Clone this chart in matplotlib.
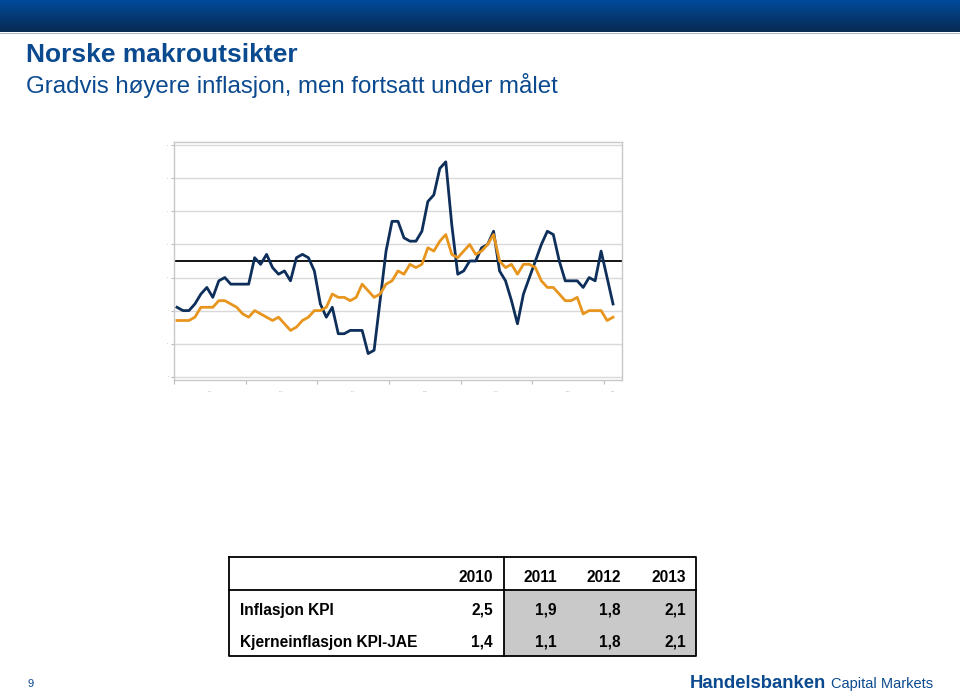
import matplotlib.pyplot as plt
import numpy as np

plt.rcParams['font.family'] = ['Liberation Sans', 'DejaVu Sans']

# månedlige tall, jan 2005 - feb 2011 (lest av figuren)
kpi = [1.1, 1.0, 1.0, 1.2, 1.5, 1.7, 1.4, 1.9, 2.0, 1.8, 1.8, 1.8,
       1.8, 2.6, 2.4, 2.7, 2.3, 2.1, 2.2, 1.9, 2.6, 2.7, 2.6, 2.2,
       1.2, 0.8, 1.1, 0.3, 0.3, 0.4, 0.4, 0.4, -0.3, -0.2, 1.3, 2.8,
       3.7, 3.7, 3.2, 3.1, 3.1, 3.4, 4.3, 4.5, 5.3, 5.5, 3.6, 2.1,
       2.2, 2.5, 2.5, 2.9, 3.0, 3.4, 2.2, 1.9, 1.3, 0.6, 1.5, 2.0,
       2.5, 3.0, 3.4, 3.3, 2.5, 1.9, 1.9, 1.9, 1.7, 2.0, 1.9, 2.8,
       2.0, 1.2]
kpi_jae = [0.7, 0.7, 0.7, 0.8, 1.1, 1.1, 1.1, 1.3, 1.3, 1.2, 1.1, 0.9,
           0.8, 1.0, 0.9, 0.8, 0.7, 0.8, 0.6, 0.4, 0.5, 0.7, 0.8, 1.0,
           1.0, 1.1, 1.5, 1.4, 1.4, 1.3, 1.4, 1.8, 1.6, 1.4, 1.5, 1.8,
           1.9, 2.2, 2.1, 2.4, 2.3, 2.4, 2.9, 2.8, 3.1, 3.3, 2.7, 2.6,
           2.8, 3.0, 2.7, 2.8, 3.0, 3.3, 2.5, 2.3, 2.4, 2.1, 2.4, 2.4,
           2.3, 1.9, 1.7, 1.7, 1.5, 1.3, 1.3, 1.4, 0.9, 1.0, 1.0, 1.0,
           0.7, 0.8]
target = 2.5
years = ['2005', '2006', '2007', '2008', '2009', '2010', '2011']
y_ticks = [-1, 0, 1, 2, 3, 4, 5, 6]

tab_years = ['2010', '2011', '2012', '2013']
tab_rows = ['Inflasjon KPI', 'Kjerneinflasjon KPI-JAE']
tab_vals = [['2,5', '1,9', '1,8', '2,1'],
            ['1,4', '1,1', '1,8', '2,1']]

W, H = 960, 694
fig = plt.figure(figsize=(9.6, 6.94), dpi=100)

def fx(px):
    return px / W

def fy(py):
    return 1 - py / H

# topplinje med gradient
hdr = fig.add_axes([0, fy(32), 1, 32 / H])
grad = np.linspace(0, 1, 64).reshape(-1, 1)
top = np.array([0, 75, 155]) / 255
bot = np.array([8, 42, 82]) / 255
img = top[None, None, :] * (1 - grad[:, :, None]) + bot[None, None, :] * grad[:, :, None]
hdr.imshow(img, aspect='auto', extent=[0, 1, 0, 1])
hdr.axis('off')
fig.add_artist(plt.Line2D([0, 1], [fy(33), fy(33)], color='#b0b8c8', lw=0.8))

blue = '#0b4a8f'
fig.text(fx(26), fy(55), 'Norske makroutsikter', fontsize=19, fontweight='bold',
         color=blue, va='center', ha='left')
fig.text(fx(26), fy(85), 'Gradvis høyere inflasjon, men fortsatt under målet',
         fontsize=17.3, color=blue, va='center', ha='left')

# diagram
ax = fig.add_axes([fx(174), fy(380), fx(622 - 174), (380 - 142) / H])
x = np.arange(len(kpi))
ax.plot(x, kpi, color='#0d2f5a', lw=2.0, zorder=3)
ax.plot(x, kpi_jae, color='#e8951e', lw=2.0, zorder=3)
ax.axhline(target, color='black', lw=1.3, zorder=2)
ax.set_xlim(-0.5, 74.5)
ax.set_ylim(-1.1, 6.1)
ax.set_yticks(y_ticks)
ax.set_yticklabels([str(v) for v in y_ticks], fontsize=1.5, color='#999999')
ax.grid(axis='y', color='#d9d9d9', lw=1)
ax.set_axisbelow(True)
ax.set_xticks(np.arange(-0.5, 75, 12))
ax.set_xticklabels([])
ax.set_xticks([5.5 + 12 * k for k in range(6)] + [73], minor=True)
ax.set_xticklabels(years, minor=True, fontsize=1.5, color='#999999')
ax.tick_params(axis='x', which='major', length=3, color='#bbbbbb')
ax.tick_params(axis='x', which='minor', length=0, pad=8)
ax.tick_params(axis='y', length=2, color='#bbbbbb', pad=2)
for s in ax.spines.values():
    s.set_color('#c8c8c8')
    s.set_linewidth(1)

# tabell
tx0, tx1, ty0, ty1 = 229, 696, 557, 656
ty_h = 590
tx_v = 504
tab = fig.add_axes([0, 0, 1, 1], facecolor='none')
tab.set_xlim(0, W)
tab.set_ylim(H, 0)
tab.axis('off')
tab.add_patch(plt.Rectangle((tx_v, ty_h), tx1 - tx_v, ty1 - ty_h, color='#c9c9c9', lw=0))
tab.plot([tx0, tx1, tx1, tx0, tx0], [ty0, ty0, ty1, ty1, ty0], color='black', lw=1.3)
tab.plot([tx0, tx1], [ty_h, ty_h], color='black', lw=1.3)
tab.plot([tx_v, tx_v], [ty0, ty1], color='black', lw=1.3)
col_r = [493, 557, 621, 686]
for c, yr in zip(col_r, tab_years):
    tab.text(c, 577, yr, fontsize=11.2, fontweight='bold', ha='right', va='center')
row_y = [610, 642]
for ry, name, vals in zip(row_y, tab_rows, tab_vals):
    tab.text(240, ry, name, fontsize=11.2, fontweight='bold', ha='left', va='center')
    for c, v in zip(col_r, vals):
        tab.text(c, ry, v, fontsize=11.2, fontweight='bold', ha='right', va='center')

# bunntekst
fig.text(fx(28), fy(684), '9', fontsize=8, color=blue, va='center')
fig.text(fx(690), fy(683), 'Handelsbanken', fontsize=13.3, fontweight='bold',
         color=blue, va='center', ha='left')
fig.text(fx(831), fy(684), 'Capital Markets', fontsize=10.5, color=blue,
         va='center', ha='left')

fig.savefig('out.png', dpi=100)
